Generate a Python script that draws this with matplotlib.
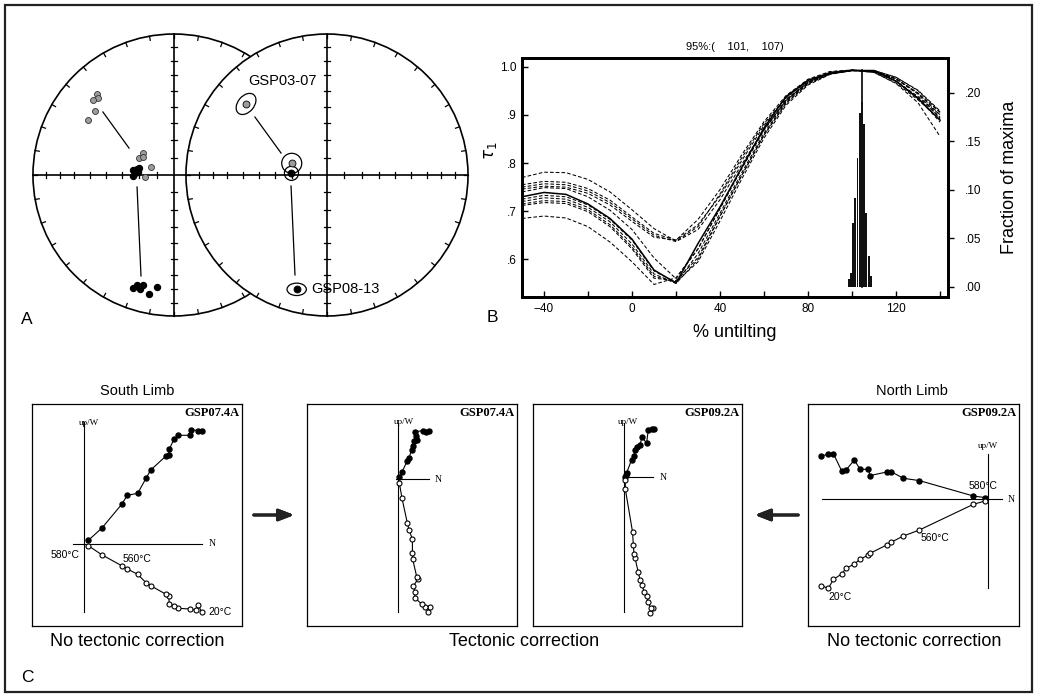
import numpy as np
import matplotlib
matplotlib.use('Agg')
from matplotlib import pyplot as plt
from matplotlib.patches import Circle, Ellipse, Rectangle

plt.rcParams['font.family'] = ['Liberation Sans', 'DejaVu Sans']
plt.rcParams['mathtext.fontset'] = 'dejavusans'

# ---------------- Panel A: equal-area projections (unit circle) ----------------
geo0307_x = [-0.546, -0.539, -0.574, -0.560, -0.610]
geo0307_y = [0.574, 0.546, 0.532, 0.454, 0.390]
tilt0307_x = [-0.220, -0.248, -0.220, -0.163, -0.206]
tilt0307_y = [0.156, 0.121, 0.128, 0.057, -0.014]
tilt0813_x = [-0.291, -0.262, -0.248, -0.277, -0.291, -0.255]
tilt0813_y = [0.035, 0.043, 0.050, 0.014, -0.007, 0.021]
geo0813_x = [-0.291, -0.262, -0.241, -0.220, -0.177, -0.121]
geo0813_y = [-0.801, -0.780, -0.809, -0.780, -0.844, -0.794]

# site means (right net): x, y, a95 ellipse width, height, angle
mean_geo0307 = (-0.574, 0.504, 0.17, 0.115, 50)
mean_tilt0307 = (-0.250, 0.083, 0.142, 0.142, 0)
mean_tilt0813 = (-0.252, 0.012, 0.10, 0.10, 0)
mean_geo0813 = (-0.215, -0.811, 0.137, 0.088, 0)

# ---------------- Panel B: fold test ----------------
untilt = [-50, -40, -30, -20, -10, 0, 10, 20, 30, 40, 50, 60, 70, 80, 90, 100, 110, 120, 130, 140]
tau_mean = [.730, .739, .735, .715, .685, .642, .578, .551, .633, .709, .792, .873, .938, .972, .986, .992, .992, .970, .934, .889]
tau_boot = [
    [.770, .781, .780, .766, .740, .703, .664, .638, .668, .736, .812, .882, .936, .971, .988, .993, .989, .970, .938, .900],
    [.755, .762, .760, .747, .723, .688, .654, .640, .683, .745, .818, .886, .940, .974, .990, .993, .988, .966, .931, .891],
    [.750, .757, .755, .742, .718, .684, .650, .637, .662, .724, .798, .870, .930, .968, .987, .993, .990, .970, .936, .895],
    [.746, .752, .750, .737, .713, .679, .646, .640, .672, .732, .806, .878, .935, .972, .989, .993, .991, .975, .945, .905],
    [.740, .749, .747, .730, .702, .662, .603, .560, .622, .706, .790, .870, .932, .969, .987, .993, .990, .970, .935, .885],
    [.725, .733, .730, .713, .683, .640, .576, .552, .612, .696, .781, .862, .928, .967, .986, .992, .991, .975, .945, .900],
    [.720, .728, .725, .708, .678, .632, .570, .550, .600, .689, .775, .858, .925, .965, .985, .992, .992, .978, .950, .906],
    [.715, .722, .720, .703, .672, .626, .565, .553, .595, .680, .768, .852, .920, .962, .984, .992, .992, .978, .951, .908],
    [.712, .718, .716, .699, .668, .622, .561, .556, .604, .690, .776, .858, .924, .964, .985, .992, .991, .974, .943, .893],
    [.685, .690, .686, .668, .636, .595, .548, .562, .622, .706, .790, .868, .930, .967, .986, .992, .988, .965, .925, .855],
]
hist_centers = [98.5, 99.5, 100.5, 101.5, 102.5, 103.5, 104.5, 105.5, 106.5, 107.5, 108.5]
hist_frac = [.0075, .014, .066, .091, .133, .179, .190, .168, .076, .032, .011]
best_untilt = 104.6
best_tau = 0.993

# ---------------- Panel C: orthogonal vector plots ----------------
# S07.4A geographic
c1_nh = [117.7, 114.3, 106.7, 106.0, 94.3, 90.0, 85.3, 84.7, 82.0, 66.7, 62.0, 53.7, 43.3, 37.7, 17.7, 4.3]
c1_w = [113.0, 113.3, 114.3, 108.7, 108.7, 105.0, 94.7, 89.0, 88.0, 74.0, 65.7, 50.7, 48.7, 39.7, 15.7, 3.7]
c1_nv = [117.7, 114.3, 112.0, 106.0, 94.3, 90.0, 85.3, 84.7, 82.0, 66.7, 62.0, 53.7, 43.3, 37.7, 17.7, 4.3]
c1_up = [-68.3, -61.0, -66.0, -65.0, -64.3, -61.7, -60.3, -51.7, -50.3, -41.7, -38.7, -30.3, -25.0, -21.7, -10.7, -1.7]
# S07.4A tilt corrected
c2_nh = [31.3, 28.0, 25.0, 17.3, 18.0, 19.7, 16.3, 15.3, 14.0, 11.3, 9.7, 4.3, 1.7]
c2_w = [48.3, 47.0, 48.3, 47.3, 43.0, 39.0, 38.3, 33.0, 29.0, 21.3, 18.3, 7.0, 2.3]
c2_nv = [30.3, 32.0, 27.3, 24.0, 17.3, 17.0, 15.7, 20.3, 19.0, 15.0, 14.7, 14.7, 11.3, 9.7, 4.3, 1.7]
c2_up = [-133.3, -127.7, -127.7, -125.3, -118.7, -112.7, -107.0, -100.0, -97.7, -80.3, -74.3, -60.0, -51.0, -44.3, -19.3, -4.3]
# S09.2A tilt corrected
c3_nh = [29.7, 27.3, 24.0, 22.3, 17.7, 15.7, 13.0, 10.7, 9.7, 7.3, 2.3, 1.7, 1.0]
c3_w = [48.3, 48.0, 47.3, 34.0, 39.7, 32.3, 30.0, 27.3, 20.7, 17.3, 4.0, 2.3, 0.0]
c3_nv = [25.7, 29.0, 26.3, 24.0, 22.3, 19.7, 18.0, 15.7, 14.0, 10.7, 9.7, 9.0, 8.3, 1.0, 1.0]
c3_up = [-136.0, -131.0, -131.0, -125.3, -119.3, -115.3, -107.7, -102.7, -95.3, -81.0, -77.0, -67.7, -55.3, -12.0, -3.3]
# S09.2A geographic
c4_n = [-166.7, -159.3, -154.3, -146.0, -141.7, -133.3, -127.7, -119.3, -117.7, -101.0, -96.7, -84.3, -68.3, -14.3, -2.7]
c4_w = [43.3, 45.0, 45.7, 28.3, 29.3, 39.3, 30.0, 30.0, 23.7, 27.3, 27.7, 21.0, 18.7, 3.3, 1.7]
c4_up = [-86.3, -89.0, -80.0, -74.7, -69.0, -64.7, -60.0, -55.7, -54.0, -45.7, -43.0, -36.7, -30.7, -5.0, -1.7]

W, H = 1038, 698
fig = plt.figure(figsize=(W / 100, H / 100), dpi=100)


def px_axes(l, t, r, b):
    return fig.add_axes([l / W, 1 - b / H, (r - l) / W, (b - t) / H])


def fig_text(x, y, s, **kw):
    fig.text(x / W, 1 - y / H, s, **kw)


# outer frame
fig.add_artist(Rectangle((5 / W, 6 / H), 1027 / W, 687 / H, transform=fig.transFigure,
                         fill=False, ec='#222222', lw=1.6))

# ---------- Panel A ----------
axA = px_axes(20, 25, 480, 325)
axA.set_xlim(-1.092, 2.170)
axA.set_ylim(-1.064, 1.064)
axA.axis('off')
right_cx = 1.085


def stereonet(ax, cx, z):
    lw = 1.2
    ax.add_patch(Circle((cx, 0), 1, fc='white', ec='black', lw=lw, zorder=z))
    ax.plot([cx - 1, cx + 1], [0, 0], color='k', lw=lw, zorder=z + 1)
    ax.plot([cx, cx], [-1, 1], color='k', lw=lw, zorder=z + 1)
    inc = np.arange(10, 90, 10)
    rr = np.sqrt(2) * np.sin(np.radians((90 - inc) / 2))
    t = 0.018
    for r in rr:
        for s in (1, -1):
            ax.plot([cx + s * r] * 2, [-t, t], color='k', lw=0.9, zorder=z + 1)
            ax.plot([cx - t, cx + t], [s * r] * 2, color='k', lw=0.9, zorder=z + 1)
    for a in np.radians(np.arange(0, 360, 10)):
        ax.plot([cx + np.sin(a), cx + 0.97 * np.sin(a)], [np.cos(a), 0.97 * np.cos(a)],
                color='k', lw=0.9, zorder=z + 1)


stereonet(axA, 0, 1)
gray = '#9c9c9c'
ms = 4.3
axA.plot(geo0307_x, geo0307_y, 'o', ms=ms, mfc=gray, mec='#333333', mew=0.6, zorder=3)
axA.plot(tilt0307_x, tilt0307_y, 'o', ms=ms, mfc=gray, mec='#333333', mew=0.6, zorder=3)
axA.plot(tilt0813_x, tilt0813_y, 'o', ms=ms, mfc='k', mec='k', zorder=3)
axA.plot(geo0813_x, geo0813_y, 'o', ms=ms, mfc='k', mec='k', zorder=3)
axA.plot([-0.504, -0.319], [0.447, 0.191], color='k', lw=0.9, zorder=3)
axA.plot([-0.262, -0.234], [-0.085, -0.716], color='k', lw=0.9, zorder=3)

stereonet(axA, right_cx, 4)
for m, fc in [(mean_geo0307, gray), (mean_tilt0307, gray), (mean_tilt0813, 'k'), (mean_geo0813, 'k')]:
    axA.add_patch(Ellipse((right_cx + m[0], m[1]), m[2], m[3], angle=m[4], fill=False,
                          ec='k', lw=0.9, zorder=6))
    axA.plot(right_cx + m[0], m[1], 'o', ms=5, mfc=fc, mec='k', mew=0.6, zorder=7)
axA.plot([right_cx - 0.511, right_cx - 0.326], [0.411, 0.156], color='k', lw=0.9, zorder=6)
axA.plot([right_cx - 0.255, right_cx - 0.227], [-0.078, -0.709], color='k', lw=0.9, zorder=6)
axA.text(right_cx - 0.319, 0.667, 'GSP03-07', fontsize=10.5, ha='center', va='center', zorder=8)
axA.text(right_cx - 0.113, -0.809, 'GSP08-13', fontsize=10.5, ha='left', va='center', zorder=8)

# ---------- Panel B ----------
axB = px_axes(522, 58, 948, 297)
for d in tau_boot:
    axB.plot(untilt, d, color='k', lw=0.75, dashes=(3.5, 2))
axB.plot(untilt, tau_mean, color='k', lw=1.1)
axB.set_xlim(-50, 143.6)
axB.set_ylim(0.522, 1.018)
axB.set_xticks(range(-40, 141, 20))
axB.set_xticklabels(['\u221240', '', '0', '', '40', '', '80', '', '120', ''])
axB.set_yticks([0.6, 0.7, 0.8, 0.9, 1.0])
axB.set_yticklabels(['.6', '.7', '.8', '.9', '1.0'])
axB.tick_params(direction='in', length=4, width=1, labelsize=8.5, pad=4)
for sp in axB.spines.values():
    sp.set_linewidth(2)
axB.set_ylabel(r'$\tau_1$', fontsize=12)
axB.yaxis.set_label_coords(-0.055, 0.61)
axB.set_xlabel('% untilting', fontsize=13)
axB.xaxis.set_label_coords(0.5, -0.115)
axB.text(0.5, 1.046, '95%:(    101,    107)', transform=axB.transAxes,
         ha='center', va='center', fontsize=8)

axH = axB.twinx()
axH.set_ylim(-0.0106, 0.2358)
axH.bar(hist_centers, hist_frac, width=0.85, color='#111111')
axH.set_yticks([0, 0.05, 0.10, 0.15, 0.20])
axH.set_yticklabels(['.00', '.05', '.10', '.15', '.20'])
axH.tick_params(direction='out', length=4, width=1, labelsize=8.5, pad=8)
axH.set_ylabel('Fraction of maxima', fontsize=13, labelpad=14)
for sp in axH.spines.values():
    sp.set_linewidth(2)
base = axB.transData.inverted().transform(axH.transData.transform((best_untilt, 0)))[1]
axB.plot([best_untilt, best_untilt], [base, best_tau], color='k', lw=1.2)

# ---------- Panel C ----------
serif = ['Liberation Serif', 'DejaVu Serif']


def zij(box, origin, nh, wh, nv, uv, hline, vline, name):
    l, t, r, b = box
    ox, oy = origin
    ax = px_axes(l, t, r, b)
    ax.set_xlim(l - ox, r - ox)
    ax.set_ylim(oy - b, oy - t)
    ax.set_xticks([])
    ax.set_yticks([])
    for sp in ax.spines.values():
        sp.set_linewidth(0.9)
    ax.plot(hline, [0, 0], color='k', lw=0.8)
    ax.plot([0, 0], vline, color='k', lw=0.8)
    ax.plot(nh, wh, '-', color='k', lw=0.8, marker='o', ms=3.6, mfc='k', mec='k')
    ax.plot(nv, uv, '-', color='k', lw=0.8, marker='o', ms=3.6, mfc='white', mec='k', mew=0.8)
    ax.text(0.99, 0.96, name, transform=ax.transAxes, ha='right', va='center',
            fontsize=9, fontweight='bold', family=serif)
    return ax


ax1 = zij((32, 404, 242, 626), (84, 544), c1_nh, c1_w, c1_nv, c1_up, [-11, 118], [-68, 122], 'GSP07.4A')
ax1.text(5, 121, 'up/W', family=serif, fontsize=6.5, ha='center', va='center')
ax1.text(128, 0, 'N', family=serif, fontsize=7, ha='center', va='center')
ax1.text(-4, -11, '580°C', fontsize=7.5, ha='right', va='center')
ax1.text(39, -15, '560°C', fontsize=7.5, ha='left', va='center')
ax1.text(124, -68, '20°C', fontsize=7.5, ha='left', va='center')

ax2 = zij((307, 404, 517, 626), (397.7, 479), c2_nh, c2_w, c2_nv, c2_up, [-2, 31.3], [-133, 56], 'GSP07.4A')
ax2.text(6.3, 57, 'up/W', family=serif, fontsize=6.5, ha='center', va='center')
ax2.text(40.3, 0, 'N', family=serif, fontsize=7, ha='center', va='center')

ax3 = zij((533, 404, 742, 626), (624.3, 477), c3_nh, c3_w, c3_nv, c3_up, [-1, 28.7], [-135, 54], 'GSP09.2A')
ax3.text(3.7, 55, 'up/W', family=serif, fontsize=6.5, ha='center', va='center')
ax3.text(38.7, 0, 'N', family=serif, fontsize=7, ha='center', va='center')

ax4 = zij((808, 404, 1019, 626), (987.7, 499.3), c4_n, c4_w, c4_n, c4_up, [-166, 14], [-88.7, 45.3], 'GSP09.2A')
ax4.text(0, 53.3, 'up/W', family=serif, fontsize=6.5, ha='center', va='center')
ax4.text(23, 0, 'N', family=serif, fontsize=7, ha='center', va='center')
ax4.text(-4.7, 13.3, '580°C', fontsize=7.5, ha='center', va='center')
ax4.text(-67, -38.4, '560°C', fontsize=7.5, ha='left', va='center')
ax4.text(-147.7, -97.7, '20°C', fontsize=7.5, ha='center', va='center')

fig_text(137, 391, 'South Limb', fontsize=10.5, ha='center', va='center')
fig_text(912, 391, 'North Limb', fontsize=10.5, ha='center', va='center')
fig_text(137, 642, 'No tectonic correction', fontsize=13, ha='center', va='center')
fig_text(524, 642, 'Tectonic correction', fontsize=13, ha='center', va='center')
fig_text(914, 642, 'No tectonic correction', fontsize=13, ha='center', va='center')

arrow = dict(arrowstyle='-|>,head_length=0.9,head_width=0.35', lw=2.2, color='#222222')
fig.add_artist(plt.annotate('', xy=(297 / W, 1 - 515 / H), xytext=(251 / W, 1 - 515 / H),
                            xycoords='figure fraction', arrowprops=arrow))
fig.add_artist(plt.annotate('', xy=(752 / W, 1 - 515 / H), xytext=(801 / W, 1 - 515 / H),
                            xycoords='figure fraction', arrowprops=arrow))

fig_text(27, 319, 'A', fontsize=12.5, ha='center', va='center')
fig_text(492, 318, 'B', fontsize=12.5, ha='center', va='center')
fig_text(27, 678, 'C', fontsize=12.5, ha='center', va='center')

fig.savefig('out.png', dpi=100)
